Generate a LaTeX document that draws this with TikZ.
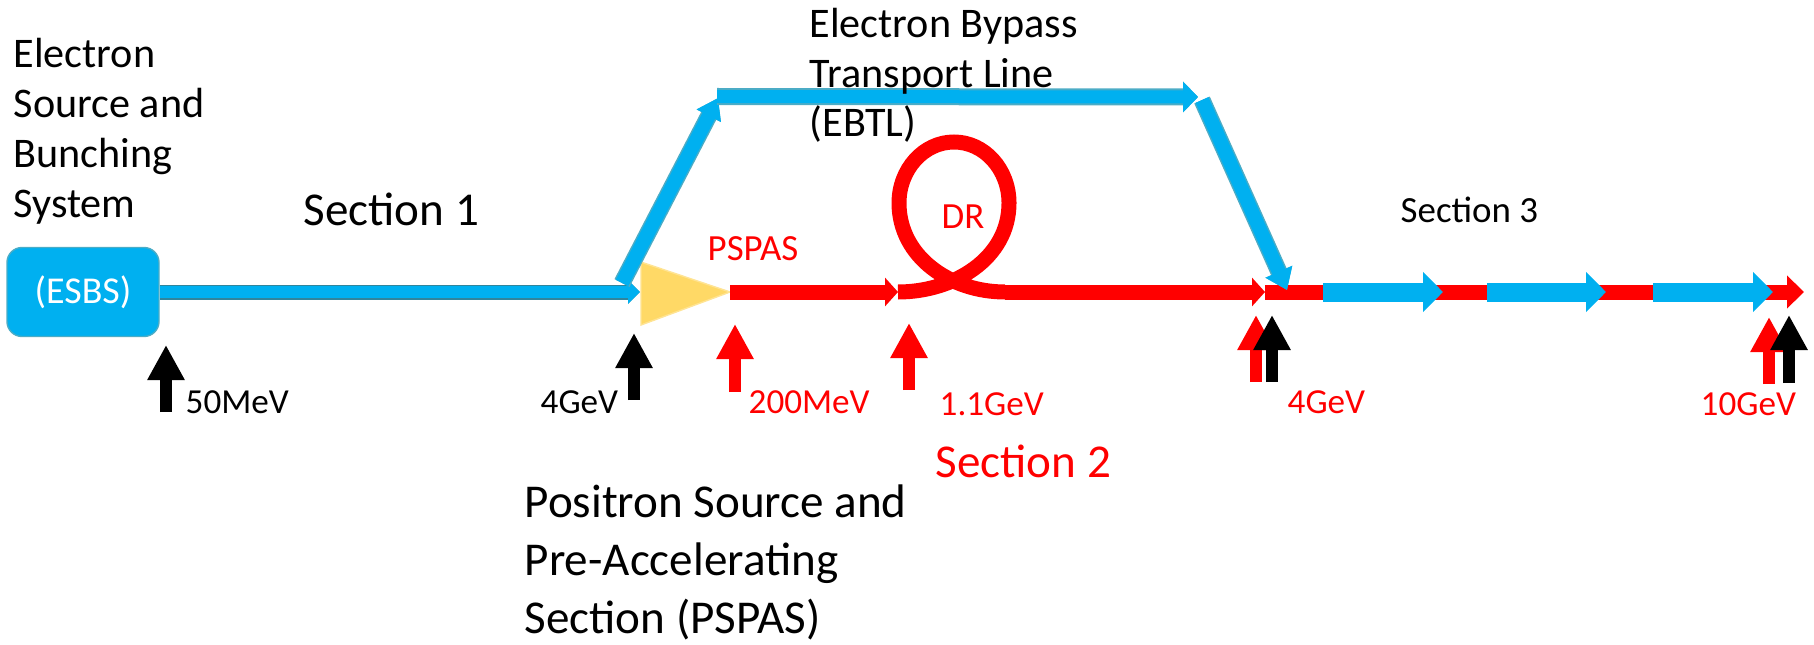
\documentclass[tikz,border=0pt]{standalone}
\usepackage{fontspec}
\setmainfont{Carlito}
\usepackage{tikz}
\usetikzlibrary{arrows.meta}

\definecolor{beamblue}{HTML}{00B0F0}
\definecolor{edgeblue}{HTML}{4BACC6}
\definecolor{darkedge}{HTML}{31859C}
\definecolor{beamred}{HTML}{FF0000}
\definecolor{pspasyellow}{HTML}{FFD966}

\tikzset{
  lbl/.style={anchor=base west, inner sep=0pt},
  bigtxt/.style={lbl, font=\fontsize{13.4}{16.4}\selectfont},
  midtxt/.style={lbl, font=\fontsize{12}{14.2}\selectfont},
  smalltxt/.style={lbl, font=\fontsize{10}{12}\selectfont},
  redline/.style={draw=beamred, line width=0.15cm},
  redtip/.style={-{Triangle[length=0.13cm,width=0.28cm]}},
  bypass/.style={draw=beamblue, line width=0.14cm, preaction={draw=edgeblue, line width=0.17cm}},
  linac/.style={draw=beamblue, line width=0.19cm, -{Triangle[length=0.20cm,width=0.39cm]}},
  epoint/.style={line width=0.12cm, -{Triangle[length=0.35cm,width=0.35cm]}}
}

\begin{document}
\begin{tikzpicture}
\useasboundingbox (0,0) rectangle (18.14,-6.44);

% electron source and section 1
\node[fill=beamblue, draw=edgeblue, rounded corners=0.15cm, minimum width=1.52cm, minimum height=0.89cm,
  text=white, font=\fontsize{10.8}{13}\selectfont] (esbs) at (0.83,-2.92) {(ESBS)};
\coordinate (target) at (6.40,-2.92);
\draw[draw=beamblue, line width=0.12cm, preaction={draw=darkedge, line width=0.15cm},
  -{Triangle[length=0.12cm,width=0.23cm]}] (esbs.east) -- (target);

% positron target and section 2
\fill[pspasyellow, draw=pspasyellow!70!white] (6.41,-2.62) -- (7.30,-2.92) -- (6.41,-3.25) -- cycle;
\coordinate (pspas) at (7.30,-2.92);
\coordinate (drin) at (8.98,-2.92);
\coordinate (drout) at (10.05,-2.92);
\coordinate (merge) at (12.65,-2.92);
\coordinate (linacend) at (18.04,-2.92);
\draw[redline, redtip] (pspas) -- (drin);
\draw[redline] (drin) to[out=0,in=-90] (10.09,-2.03)
  arc[start angle=0, end angle=180, x radius=0.55cm, y radius=0.61cm] to[out=-90,in=180] (drout);
\draw[redline, redtip] (drout) -- (merge);
\draw[redline, -{Triangle[length=0.17cm,width=0.32cm]}] (merge) -- (linacend);

% section 3
\foreach \a/\b in {13.23/14.43, 14.87/16.06, 16.53/17.73}
  \draw[linac] (\a,-2.92) -- (\b,-2.92);

% bypass line
\coordinate (split) at (6.22,-2.83);
\coordinate (ebtlin) at (7.18,-0.98);
\coordinate (ebtlout) at (11.98,-0.97);
\coordinate (ebtlback) at (12.02,-1.00);
\coordinate (join) at (12.87,-2.90);
\draw[bypass, -{Triangle[length=0.20cm,width=0.26cm]}] (split) -- (ebtlin);
\draw[bypass, line width=0.13cm, -{Triangle[length=0.15cm,width=0.30cm]}] (7.17,-0.965) -- (ebtlout);
\draw[bypass, -{Triangle[length=0.20cm,width=0.28cm]}] (ebtlback) -- (join);

% energy points
\foreach \x/\t/\b/\c in {1.66/3.45/4.12/black, 6.34/3.33/4.00/black, 7.35/3.24/3.92/beamred,
  9.09/3.23/3.90/beamred, 12.56/3.15/3.82/beamred, 12.72/3.15/3.82/black,
  17.69/3.17/3.84/beamred, 17.89/3.15/3.83/black}
  \draw[epoint, \c] (\x,-\b) -- (\x,-\t);

% labels (multi-line ones sit on their last baseline)
\node[midtxt, align=left] (esbstxt) at (0.13,-2.17) {Electron\\Source and\\Bunching\\System};
\node[midtxt, align=left] (ebtltxt) at (8.09,-1.37) {Electron Bypass\\Transport Line\\(EBTL)};
\node[bigtxt, align=left] (pspastxt) at (5.24,-6.33) {Positron Source and\\Pre-Accelerating\\Section (PSPAS)};
\node[bigtxt] (sec1) at (3.03,-2.25) {Section 1};
\node[bigtxt, text=beamred] (sec2) at (9.35,-4.77) {Section 2};
\node[smalltxt, font=\fontsize{10.5}{12}\selectfont] (sec3) at (14.00,-2.23) {Section 3};
\node[smalltxt, font=\fontsize{10.5}{12}\selectfont, text=beamred] (pspaslbl) at (7.07,-2.60) {PSPAS};
\node[smalltxt, font=\fontsize{10.5}{12}\selectfont, text=beamred] (dr) at (9.41,-2.28) {DR};
\node[smalltxt] (e50) at (1.85,-4.13) {50MeV};
\node[smalltxt] (e4a) at (5.40,-4.13) {4GeV};
\node[smalltxt, text=beamred] (e200) at (7.48,-4.13) {200MeV};
\node[smalltxt, text=beamred] (e11) at (9.39,-4.15) {1.1GeV};
\node[smalltxt, text=beamred] (e4b) at (12.87,-4.13) {4GeV};
\node[smalltxt, text=beamred] (e10) at (17.00,-4.15) {10GeV};
\end{tikzpicture}
\end{document}
